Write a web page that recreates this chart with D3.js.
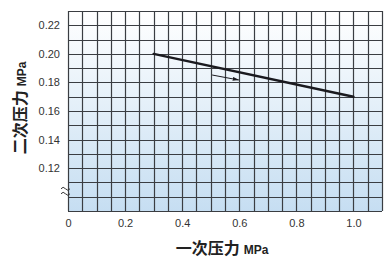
<!DOCTYPE html>
<html>
<head>
<meta charset="utf-8">
<script src="https://cdn.jsdelivr.net/npm/d3@7"></script>
<style>
  body { margin: 0; background: #fff; }
  text { font-family: "Liberation Sans", Arial, sans-serif; }
</style>
</head>
<body>
<svg id="chart" width="387" height="259"></svg>
<script>
// data
var xTicks = [0, 0.2, 0.4, 0.6, 0.8, 1.0];
var yTicks = [0.12, 0.14, 0.16, 0.18, 0.20, 0.22];
var linePts = [{p1: 0.3, p2: 0.20}, {p1: 1.0, p2: 0.17}];
var arrowPts = [{p1: 0.505, p2: 0.1852}, {p1: 0.598, p2: 0.1817}];
var xLabel = ["一次压力", "MPa"];
var yLabel = ["二次压力", "MPa"];

var svg = d3.select("#chart"),
    margin = {top: 11, right: 5, bottom: 48, left: 68},
    width = +svg.attr("width") - margin.left - margin.right,
    height = +svg.attr("height") - margin.top - margin.bottom,
    g = svg.append("g").attr("transform", "translate(" + margin.left + "," + margin.top + ")");

var x = d3.scaleLinear().domain([0, 1.1]).range([0, width]);
var y = d3.scaleLinear().domain([0.09, 0.23]).range([height, 0]);

// background gradient
var defs = svg.append("defs");
var grad = defs.append("linearGradient").attr("id", "bg")
    .attr("x1", 0).attr("y1", 0).attr("x2", 0).attr("y2", 1);
grad.append("stop").attr("offset", "0%").attr("stop-color", "#ffffff");
grad.append("stop").attr("offset", "100%").attr("stop-color", "#c6def2");

g.append("rect")
    .attr("width", width)
    .attr("height", height)
    .attr("fill", "url(#bg)");

// grid every 0.05 on x and 0.01 on y
var xGrid = d3.range(0, 23).map(function(i) { return i * 0.05; });
var yGrid = d3.range(0, 15).map(function(i) { return 0.09 + i * 0.01; });

g.append("g").selectAll("line")
    .data(xGrid)
  .enter().append("line")
    .attr("x1", function(d) { return Math.round(x(d)) + 0.5; })
    .attr("x2", function(d) { return Math.round(x(d)) + 0.5; })
    .attr("y1", 0)
    .attr("y2", height)
    .attr("stroke", "#3a3d42")
    .attr("stroke-width", 1.2);

g.append("g").selectAll("line")
    .data(yGrid)
  .enter().append("line")
    .attr("x1", 0)
    .attr("x2", width)
    .attr("y1", function(d) { return Math.round(y(d)) + 0.5; })
    .attr("y2", function(d) { return Math.round(y(d)) + 0.5; })
    .attr("stroke", "#3a3d42")
    .attr("stroke-width", 1.2);

// axes (labels only)
var xAxis = g.append("g")
    .attr("transform", "translate(0," + height + ")")
    .call(d3.axisBottom(x).tickValues(xTicks).tickSize(0).tickPadding(8)
      .tickFormat(function(d) { return d === 0 ? "0" : d3.format(".1f")(d); }));
xAxis.select(".domain").remove();
xAxis.selectAll("text").attr("font-size", 11).attr("fill", "#333")
    .style("font-family", "Liberation Sans, Arial, sans-serif");

var yAxis = g.append("g")
    .call(d3.axisLeft(y).tickValues(yTicks).tickSize(0).tickPadding(8)
      .tickFormat(d3.format(".2f")));
yAxis.select(".domain").remove();
yAxis.selectAll("text").attr("font-size", 11).attr("fill", "#333")
    .style("font-family", "Liberation Sans, Arial, sans-serif");

// axis break mark
var by = y(0.1045);
[-2.5, 2.5].forEach(function(off) {
  g.append("path")
    .attr("d", "M-7," + (by + off + 1) + " q2,-3 4.5,0 t4.5,0")
    .attr("fill", "none")
    .attr("stroke", "#333")
    .attr("stroke-width", 1);
});

// characteristic line
var line = d3.line()
    .x(function(d) { return x(d.p1); })
    .y(function(d) { return y(d.p2); });

g.append("path")
    .datum(linePts)
    .attr("fill", "none")
    .attr("stroke", "#1a1a1f")
    .attr("stroke-width", 2.4)
    .attr("stroke-linecap", "round")
    .attr("d", line);

// flow direction arrow
defs.append("marker")
    .attr("id", "head")
    .attr("viewBox", "0 0 10 6")
    .attr("refX", 9).attr("refY", 3)
    .attr("markerWidth", 7).attr("markerHeight", 4)
    .attr("markerUnits", "userSpaceOnUse")
    .attr("orient", "auto")
  .append("path")
    .attr("d", "M0,0 L10,3 L0,6 Z")
    .attr("fill", "#1a1a1f");

g.append("path")
    .datum(arrowPts)
    .attr("fill", "none")
    .attr("stroke", "#1a1a1f")
    .attr("stroke-width", 1)
    .attr("marker-end", "url(#head)")
    .attr("d", line);

// axis titles
function title(sel, parts) {
  sel.attr("text-anchor", "middle")
    .attr("font-weight", "bold")
    .attr("fill", "#222");
  sel.append("tspan")
    .attr("font-size", 16)
    .style("font-family", "Noto Sans CJK SC, sans-serif")
    .text(parts[0]);
  sel.append("tspan")
    .attr("font-size", 12)
    .attr("dx", 4)
    .style("font-family", "Liberation Sans, Arial, sans-serif")
    .text(parts[1]);
}

title(svg.append("text").attr("x", 222).attr("y", 254), xLabel);
title(svg.append("text").attr("transform", "translate(26,108) rotate(-90)"), yLabel);
</script>
</body>
</html>
